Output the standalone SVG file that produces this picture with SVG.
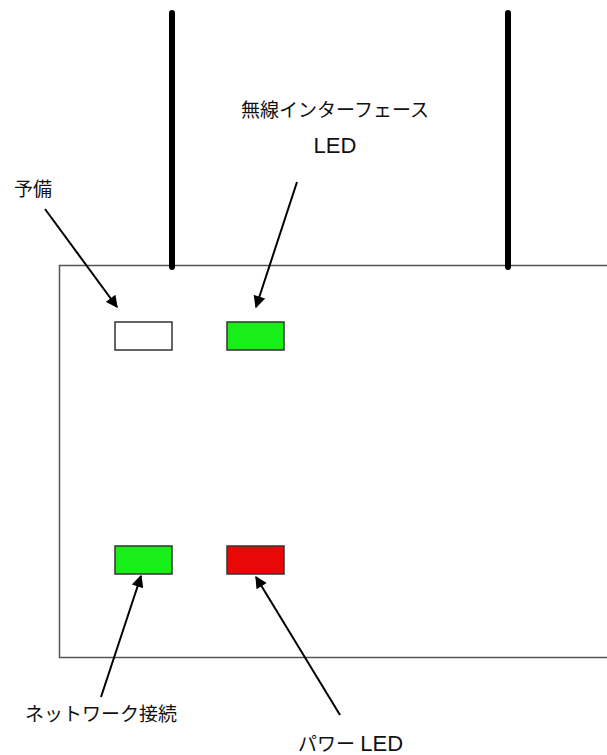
<svg xmlns="http://www.w3.org/2000/svg" width="607" height="755" viewBox="0 0 607 755">
<style>
text{font-family:"Liberation Sans","Noto Sans CJK JP",sans-serif;font-size:19px;fill:#111}
.big{font-size:22px}
.led{stroke:#333;stroke-width:1.5}
.ant{stroke:#000;stroke-width:6;stroke-linecap:round}
.arr{stroke:#000;stroke-width:2;fill:none;marker-end:url(#ah)}
</style>
<defs>
<marker id="ah" viewBox="0 0 10 10" refX="9" refY="5" markerWidth="7" markerHeight="6" orient="auto" markerUnits="strokeWidth">
<path d="M0,0 L10,5 L0,10 z" fill="#000"/>
</marker>
</defs>
<rect width="607" height="755" fill="#fff"/>
<g id="device">
<rect x="59.5" y="265.5" width="560" height="392" fill="#fff" stroke="#555" stroke-width="1.5"/>
</g>
<g id="antennas">
<line class="ant" x1="172" y1="13" x2="172" y2="267"/>
<line class="ant" x1="508" y1="13" x2="508" y2="267"/>
</g>
<g id="led-spare"><rect class="led" x="115" y="322" width="57" height="28" fill="#fff"/></g>
<g id="led-wireless"><rect class="led" x="227" y="322" width="57" height="28" fill="#18ee18"/></g>
<g id="led-network"><rect class="led" x="115" y="546" width="57" height="28" fill="#18ee18"/></g>
<g id="led-power"><rect class="led" x="227" y="546" width="57" height="28" fill="#e80808"/></g>
<g id="connectors">
<line class="arr" x1="45" y1="209" x2="117" y2="307"/>
<line class="arr" x1="297" y1="182" x2="256" y2="307"/>
<line class="arr" x1="101" y1="697" x2="141" y2="576"/>
<line class="arr" x1="340" y1="715" x2="256" y2="577"/>
</g>
<g id="labels">
<text x="14" y="196">予備</text>
<text x="335" y="117" text-anchor="middle">無線インターフェース</text>
<text x="335" y="153" text-anchor="middle" class="big">LED</text>
<text x="25" y="721">ネットワーク接続</text>
<text x="298" y="751">パワー <tspan class="big">LED</tspan></text>
</g>
</svg>
